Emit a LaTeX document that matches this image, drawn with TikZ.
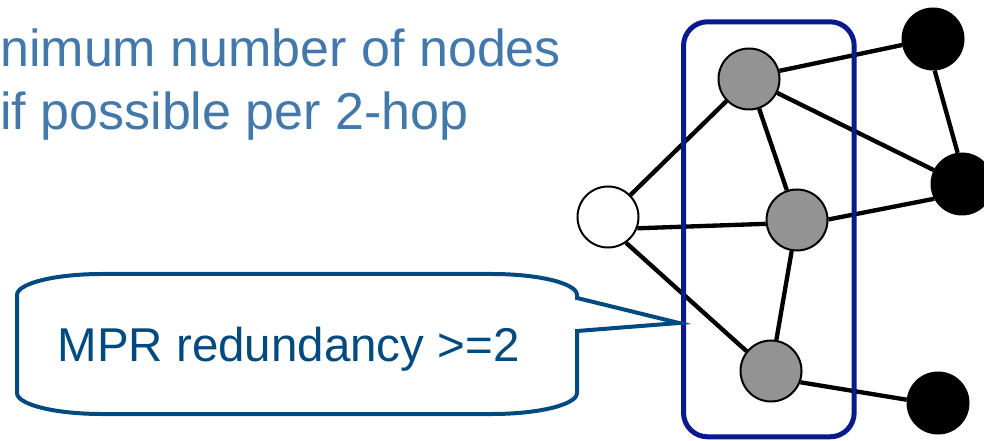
\documentclass[tikz,border=0pt]{standalone}
\usepackage{fontspec}
\setmainfont{Liberation Sans}

\definecolor{titleblue}{RGB}{67,120,170}
\definecolor{noteblue}{RGB}{0,74,128}
\definecolor{setblue}{RGB}{8,26,140}
\definecolor{relaygray}{RGB}{147,147,147}

\begin{document}
\begin{tikzpicture}[x=0.75pt, y=-0.75pt,
	vertex/.style={circle, draw=black, line width=1.5pt, minimum size=45.75pt, inner sep=0pt},
	link/.style={line width=3.25pt}]
	\useasboundingbox (0,0) rectangle (984,441);
	\clip (0,0) rectangle (984,441);

	\node[anchor=base west, inner sep=0pt, text=titleblue, font=\fontsize{39}{47}\selectfont] (goal1) at (0,67) {nimum number of nodes};
	\node[anchor=base west, inner sep=0pt, text=titleblue, font=\fontsize{39}{47}\selectfont] (goal2) at (0,130) {if possible per 2-hop};

	% source node, its MPRs and the 2-hop neighbours
	\node[vertex, fill=white] (w) at (608,217) {};
	\node[vertex, fill=relaygray] (g1) at (749,79) {};
	\node[vertex, fill=relaygray] (g2) at (797,220) {};
	\node[vertex, fill=relaygray] (g3) at (771,371) {};
	\node[vertex, fill=black] (b1) at (933,39) {};
	\node[vertex, fill=black] (b2) at (962,184) {};
	\node[vertex, fill=black] (b3) at (938,403) {};

	\foreach \a/\b in {w/g1, w.-21/g2.187, w.-55/g3.141, g1/g2, g2/g3,
			g1.15/b1.191, g1/b2, g2.1/b2.208, g3.-21/b3.174, b1.-87/b2.98}
		\draw[link] (\a) -- (\b);

	\node[draw=setblue, line width=3.75pt, rectangle, rounded corners=18pt, minimum width=128pt, minimum height=311.25pt] (mprset) at (768.85,229.3) {};

	% speech bubble pointing at the MPR set
	\coordinate (tip) at (679,323);
	\draw[noteblue, line width=3pt, line join=miter]
		(17,295) .. controls (17,283.4) and (55,274) .. (102,274)
		-- (492,274) .. controls (539,274) and (577,283.4) .. (577,295)
		-- (577,298) -- (tip) -- (577,331)
		-- (577,393) .. controls (577,404.6) and (539,414) .. (492,414)
		-- (102,414) .. controls (55,414) and (17,404.6) .. (17,393)
		-- cycle;
	\node[anchor=base west, inner sep=0pt, text=noteblue, font=\fontsize{35.6}{43}\selectfont] (note) at (57.5,361) {MPR redundancy >=2};
\end{tikzpicture}
\end{document}
